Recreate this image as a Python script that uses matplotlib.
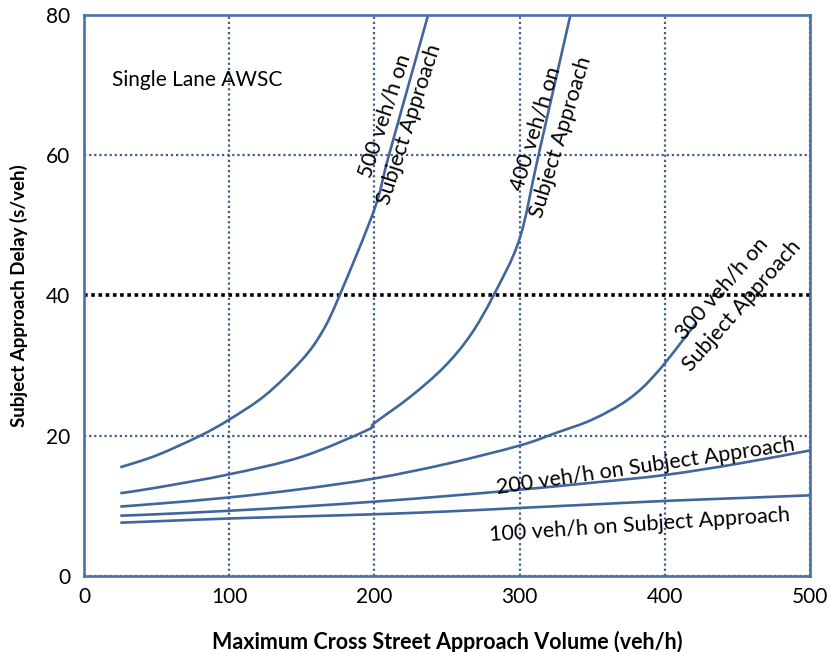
import numpy as np
import matplotlib.pyplot as plt
from matplotlib.path import Path
from matplotlib.patches import PathPatch

plt.rcParams['font.family'] = ['Lato', 'DejaVu Sans']

# cross street volume (veh/h) and delay (s/veh) for each subject approach volume
x_100 = [25, 50, 100, 150, 200, 250, 300, 350, 400, 450, 500]
d_100 = [7.6, 7.8, 8.2, 8.5, 8.8, 9.2, 9.7, 10.2, 10.7, 11.1, 11.5]

x_200 = [25, 50, 100, 150, 200, 250, 300, 350, 400, 450, 500]
d_200 = [8.6, 8.8, 9.3, 9.9, 10.6, 11.4, 12.3, 13.3, 14.4, 16.0, 17.9]

x_300 = [25, 50, 100, 150, 200, 250, 300, 325, 350, 375, 395, 422]
d_300 = [9.9, 10.3, 11.2, 12.4, 13.9, 16.0, 18.6, 20.4, 22.3, 25.2, 29.1, 36.2]

x_400 = [25, 50, 100, 150, 195, 200, 225, 248, 266, 282, 300, 313, 335]
d_400 = [11.8, 12.6, 14.5, 17.0, 20.8, 21.8, 25.6, 29.8, 34.3, 40.0, 48.1, 60.0, 80.0]

x_500 = [25, 50, 80, 100, 125, 150, 164, 176, 200, 210, 237]
d_500 = [15.5, 17.2, 20.0, 22.3, 25.8, 30.8, 34.8, 40.0, 52.3, 60.0, 80.0]

xticks = [0, 100, 200, 300, 400, 500]
yticks = [0, 20, 40, 60, 80]

line_c = '#41669B'
frame_c = '#4B70A8'


def smooth_path(xs, ys):
    # Catmull-Rom style cubic Bezier through the points (spreadsheet "smoothed line")
    p = np.column_stack([xs, ys]).astype(float)
    verts = [p[0]]
    codes = [Path.MOVETO]
    n = len(p)
    for i in range(n - 1):
        p0 = p[i - 1] if i > 0 else p[i]
        p3 = p[i + 2] if i + 2 < n else p[i + 1]
        c1 = p[i] + (p[i + 1] - p0) / 6.0
        c2 = p[i + 1] - (p3 - p[i]) / 6.0
        verts += [c1, c2, p[i + 1]]
        codes += [Path.CURVE4] * 3
    return Path(verts, codes)


fig = plt.figure(figsize=(8.3, 6.52), dpi=100)
ax = fig.add_axes([0.1012, 0.1166, 0.8747, 0.8604])

for xs, ds in [(x_100, d_100), (x_200, d_200), (x_300, d_300),
               (x_400, d_400), (x_500, d_500)]:
    ax.add_patch(PathPatch(smooth_path(xs, ds), fill=False, edgecolor=line_c,
                           lw=1.9, capstyle='butt', zorder=3))

ax.set_xlim(0, 500)
ax.set_ylim(0, 80)
ax.set_xticks(xticks)
ax.set_yticks(yticks)
ax.tick_params(length=0, labelsize=15)
ax.tick_params(axis='x', pad=8)
ax.tick_params(axis='y', pad=10)

ax.grid(True, color='#3B5F92', lw=1.6, ls=(0, (1, 1.3)), dash_capstyle='butt')
# 40 s/veh threshold line drawn heavier and in black
ygl = ax.yaxis.get_gridlines()
ygl[2].set_color('black')
ygl[2].set_linewidth(2.6)
ygl[2].set_linestyle((0, (1, 1)))

for s in ax.spines.values():
    s.set_color(frame_c)
    s.set_linewidth(1.9)
    s.set_zorder(4)

ax.set_xlabel('Maximum Cross Street Approach Volume (veh/h)', fontsize=15.5,
              fontweight='bold', labelpad=17)
ax.set_ylabel('Subject Approach Delay (s/veh)', fontsize=13.5,
              fontweight='bold', labelpad=13)

ax.text(19.5, 70.7, 'Single Lane AWSC', fontsize=15, va='center', ha='left')

lbl = dict(fontsize=15.5, ha='center', va='center', rotation_mode='anchor',
           multialignment='center', linespacing=1.4)
ax.text(215.5, 65.0, '500 veh/h on\nSubject Approach', rotation=72, **lbl)
ax.text(320.0, 63.2, '400 veh/h on\nSubject Approach', rotation=73, **lbl)
ax.text(446.0, 39.8, '300 veh/h on\nSubject Approach', rotation=48.5, **lbl)
ax.text(387.0, 15.6, '200 veh/h on Subject Approach', rotation=8.3, **lbl)
ax.text(383.0, 7.3, '100 veh/h on Subject Approach', rotation=3.8, **lbl)

plt.savefig('out.png', dpi=100)
